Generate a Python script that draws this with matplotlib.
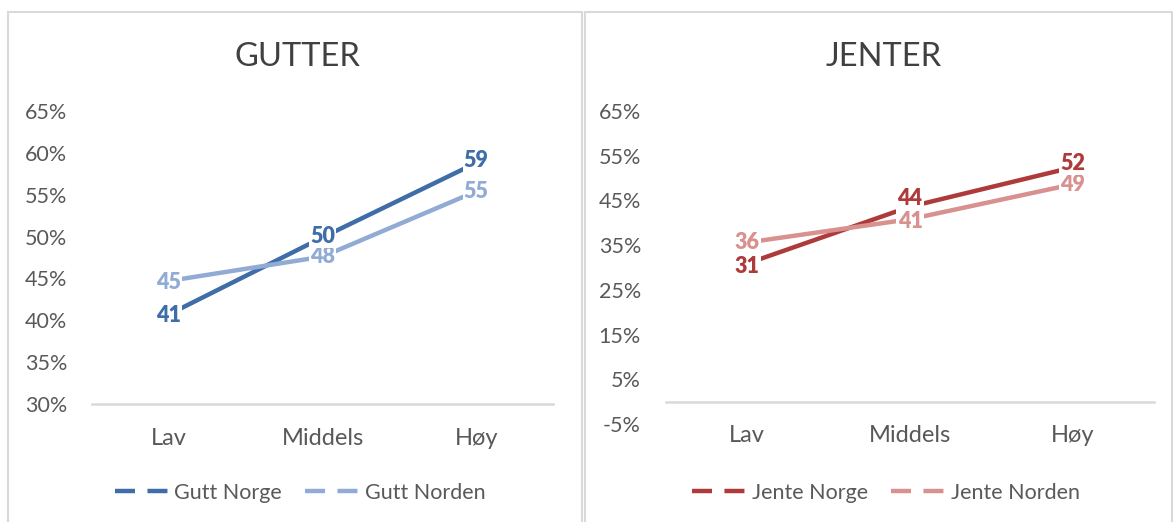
import numpy as np
import matplotlib
matplotlib.use('Agg')
import matplotlib.pyplot as plt
from matplotlib.lines import Line2D
from matplotlib.patches import Rectangle

plt.rcParams['font.family'] = ['Lato', 'DejaVu Sans']

categories = ['Lav', 'Middels', 'Høy']

gutt_norge = [40.7, 49.9, 58.8]
gutt_norden = [44.7, 47.6, 55.4]
jente_norge = [30.9, 43.6, 52.4]
jente_norden = [35.6, 40.8, 48.6]

gutt_ticks = [30, 35, 40, 45, 50, 55, 60, 65]
jente_ticks = [-5, 5, 15, 25, 35, 45, 55, 65]

W, H = 1173, 522
fig = plt.figure(figsize=(W / 100, H / 100), dpi=100)

TXT = '#595959'
GRID = '#D9D9D9'


def px(x0, y0, x1, y1):
    # pixel box (top-left origin) -> figure fraction
    return [x0 / W, 1 - y1 / H, (x1 - x0) / W, (y1 - y0) / H]


# panel frames
fig.add_artist(Rectangle((8 / W, -0.05), (582 - 8) / W, 1.05 - 12 / H,
                         transform=fig.transFigure, fill=False,
                         edgecolor=GRID, linewidth=1.5))
fig.add_artist(Rectangle((585 / W, -0.05), 0.5, 1.05 - 12 / H,
                         transform=fig.transFigure, fill=False,
                         edgecolor=GRID, linewidth=1.5))


def panel(box, title, title_x, series, colors, names, ticks, ymin, ymax,
          legend_x, label_dy):
    ax = fig.add_axes(px(*box))
    x = np.arange(len(categories))
    for vals, c in zip(series, colors):
        ax.plot(x, vals, color=c, linewidth=3.2, solid_capstyle='butt', zorder=2)
    for k, (vals, c, dys) in enumerate(zip(series, colors, label_dy)):
        for xi, v, dy in zip(x, vals, dys):
            ax.annotate('%d' % round(v), (xi, v), xytext=(0, dy),
                        textcoords='offset points', color=c, fontsize=15.5,
                        fontweight='heavy', ha='center', va='center', zorder=4 - k,
                        bbox=dict(boxstyle='square,pad=0.05', fc='white', ec='none'))
    ax.set_xlim(-0.5, 2.5)
    ax.set_ylim(ymin, ymax)
    ax.set_yticks(ticks)
    ax.set_yticklabels(['%d%%' % t for t in ticks])
    ax.set_xticks(x)
    ax.set_xticklabels(categories)
    for s in ax.spines.values():
        s.set_visible(False)
    ax.axhline(0 if ymin < 0 else ymin, color=GRID, linewidth=1.8, zorder=1,
               clip_on=False)
    ax.tick_params(axis='y', length=0, labelsize=15.5, labelcolor=TXT, pad=18)
    base = 0 if ymin < 0 else ymin
    off = (base - ymin) / (ymax - ymin) * (box[3] - box[1]) * 0.72
    ax.tick_params(axis='x', length=0, labelsize=17, labelcolor=TXT, pad=17 - off)
    fig.text(title_x / W, 1 - 57 / H, title, fontsize=23.5, color='#404040',
             ha='center', va='center')
    handles = [Line2D([0], [0], color=c, linewidth=3.2, dashes=(4.5, 2.8))
               for c in colors]
    fig.legend(handles, names, loc='center', bbox_to_anchor=(legend_x / W, 1 - 493 / H),
               ncol=2, frameon=False, fontsize=15.5, labelcolor=TXT,
               handlelength=2.6, handletextpad=0.15, columnspacing=1.1)
    return ax


panel((92, 111, 553, 404), 'GUTTER', 297,
      [gutt_norge, gutt_norden], ['#3F6DA8', '#91ABD5'],
      ['Gutt Norge', 'Gutt Norden'], gutt_ticks, 30, 65, 300,
      [(-1, 1, 2), (-1, 0, 0)])
panel((666, 111, 1154, 424), 'JENTER', 884,
      [jente_norge, jente_norden], ['#AE3A3A', '#D8918F'],
      ['Jente Norge', 'Jente Norden'], jente_ticks, -5, 65, 886,
      [(-2, 6, 3), (0, -2, 0)])

fig.savefig('out.png', dpi=100)
